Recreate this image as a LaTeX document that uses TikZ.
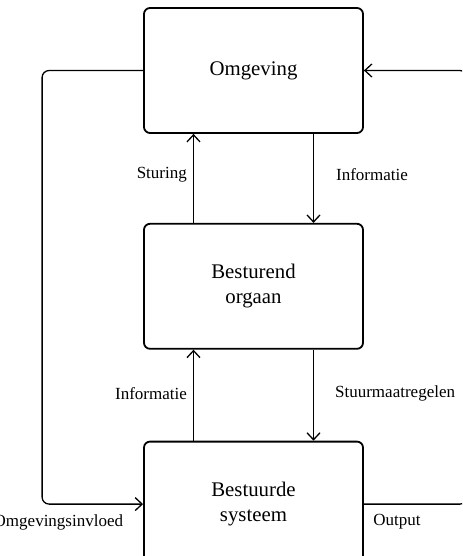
\documentclass[tikz,border=0pt]{standalone}
\usepackage{fontspec}
\setmainfont{Liberation Serif}
\usetikzlibrary{arrows.meta,positioning}
\tikzset{>={Straight Barb[length=3.5pt,width=6.5pt]}, line/.style={line width=0.65pt}, box/.style={draw, line width=0.9pt, rounded corners=3pt, minimum width=109.5pt, minimum height=62.5pt, align=center, font=\fontsize{10.4}{12.5}\selectfont},
note/.style={font=\fontsize{8.5}{10}\selectfont, inner sep=3pt}}

\begin{document}
\begin{tikzpicture}
% Frame
\useasboundingbox (0,0) rectangle (231pt,-278pt);
\clip (0,0) rectangle (231pt,-278pt);
% Boxes
\node[box] (omg) at (126.75pt,-35.25pt) {Omgeving};
\node[box, below=44.5pt of omg] (org) {Besturend\\orgaan};
\node[box, below=45.5pt of org] (sys) {Bestuurde\\systeem};
% Vertical connectors
\draw[line,->] ([xshift=-30pt]org.north) -- ([xshift=-30pt]omg.south) node[midway, left, yshift=2pt, note] (stu) {Sturing};
\draw[line,->] ([xshift=30pt]omg.south) -- ([xshift=30pt]org.north) node[midway, right=8pt, yshift=2pt, note] (inf1) {Informatie};
\draw[line,->] ([xshift=-30pt]sys.north) -- ([xshift=-30pt]org.south) node[midway, left, yshift=1pt, note] (inf2) {Informatie};
\draw[line,->] ([xshift=30pt]org.south) -- ([xshift=30pt]sys.north) node[midway, right=7.5pt, yshift=1pt, note] (stm) {Stuurmaatregelen};
% Loops
\draw[line,->,rounded corners=3.5pt] (omg.west) -- ++(-50.5pt,0) |- (sys.west);
\draw[line,->,rounded corners=3.5pt] (sys.east) -- ++(51.5pt,0) |- (omg.east);
\node[note, anchor=east] (inv) at ([xshift=-6.8pt,yshift=-9pt]sys.west) {Omgevingsinvloed};
\node[note, anchor=west] (out) at ([xshift=1.5pt,yshift=-9pt]sys.east) {Output};
\end{tikzpicture}
\end{document}
